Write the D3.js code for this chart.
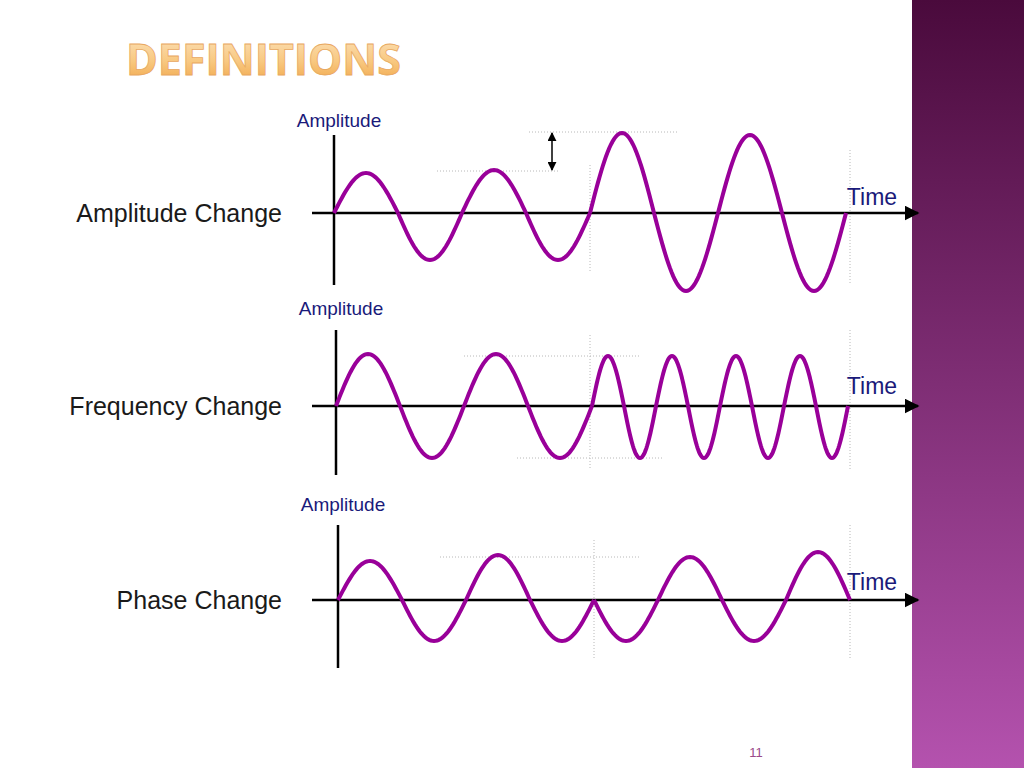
<!DOCTYPE html>
<html><head><meta charset="utf-8">
<script src="https://cdn.jsdelivr.net/npm/d3@7"></script>
<style>body{margin:0;background:#fff}svg{display:block}</style>
</head><body>
<svg id="chart" width="1024" height="768"></svg>
<script>
// half-cycle boundaries (in half-periods) and signed peak amplitudes per lobe
var ampEdges = [0,1,2,3,4,5,6,7,8];
var ampPeaks = [40,-47,43,-47,80,-78,78,-78];
var freqEdges = [0,1,2,3,4,4.5,5,5.5,6,6.5,7,7.5,8];
var freqPeaks = [52,-52,52,-52,50,-52,50,-52,50,-52,50,-52];
var phaseEdges = [0,1,2,3,4,5,6,7,8];
var phasePeaks = [39,-41,45,-41,-41,43,-41,48];
var rowLabels = ["Amplitude Change","Frequency Change","Phase Change"];

var svg = d3.select("#chart");
var defs = svg.append("defs");
var side = defs.append("linearGradient").attr("id","side").attr("x1",0).attr("y1",0).attr("x2",0).attr("y2",1);
side.append("stop").attr("offset",0).attr("stop-color","#4a0a3c");
side.append("stop").attr("offset",1).attr("stop-color","#b452ae");
var tg = defs.append("linearGradient").attr("id","tg").attr("x1",0).attr("y1",0).attr("x2",0).attr("y2",1);
tg.append("stop").attr("offset",0).attr("stop-color","#fde6c4");
tg.append("stop").attr("offset",0.55).attr("stop-color","#f8c880");
tg.append("stop").attr("offset",1).attr("stop-color","#f0a040");
defs.append("marker").attr("id","arr").attr("viewBox","0 0 10 10").attr("refX",9).attr("refY",5)
  .attr("markerWidth",6).attr("markerHeight",6).attr("orient","auto-start-reverse")
  .append("path").attr("d","M0,0L10,5L0,10z").attr("fill","#000");

svg.append("rect").attr("x",912).attr("y",0).attr("width",112).attr("height",768).attr("fill","url(#side)");
svg.append("text").attr("x",126).attr("y",75).text("DEFINITIONS")
  .attr("font-family","Open Sans, DejaVu Sans, sans-serif").attr("font-weight",700).attr("font-size",43)
  .attr("fill","url(#tg)").attr("stroke","#e8a860").attr("stroke-width",0.8);
svg.append("text").attr("x",756).attr("y",757).attr("text-anchor","middle").text("11")
  .attr("font-family","Liberation Sans, sans-serif").attr("font-size",13).attr("fill","#9a4a8a");

var panels = [
  {edges:ampEdges, peaks:ampPeaks, y0:213, x0:334, vTop:135, vBot:285, ampY:120, timeY:197,
   hguides:[[437,560,171],[529,678,132]], vguides:[[590,165,272],[850,150,285]], arrow:[552,132,171]},
  {edges:freqEdges, peaks:freqPeaks, y0:406, x0:336, vTop:330, vBot:475, ampY:308, timeY:386,
   hguides:[[464,640,356],[517,662,458]], vguides:[[590,335,470],[850,330,470]]},
  {edges:phaseEdges, peaks:phasePeaks, y0:600, x0:338, vTop:525, vBot:668, ampY:504, timeY:582,
   hguides:[[440,640,557]], vguides:[[594,540,660],[850,525,660]]}
];

panels.forEach(function(p, i) {
  var g = svg.append("g");
  var x = d3.scaleLinear().domain([0,8]).range([p.x0, p.x0 + 512]);
  var y = d3.scaleLinear().domain([-1,1]).range([p.y0 + 1, p.y0 - 1]);
  var dot = {stroke:"#b8b8b8","stroke-width":1,"stroke-dasharray":"1,2"};
  p.hguides.forEach(function(h){ g.append("line").attr("x1",h[0]).attr("x2",h[1]).attr("y1",h[2]).attr("y2",h[2]).attr("stroke",dot.stroke).attr("stroke-dasharray",dot["stroke-dasharray"]); });
  p.vguides.forEach(function(v){ g.append("line").attr("x1",v[0]).attr("x2",v[0]).attr("y1",v[1]).attr("y2",v[2]).attr("stroke",dot.stroke).attr("stroke-dasharray",dot["stroke-dasharray"]); });
  g.append("line").attr("x1",312).attr("x2",918).attr("y1",p.y0).attr("y2",p.y0)
    .attr("stroke","#000").attr("stroke-width",2.5).attr("marker-end","url(#arr)");
  g.append("line").attr("x1",p.x0).attr("x2",p.x0).attr("y1",p.vTop).attr("y2",p.vBot)
    .attr("stroke","#000").attr("stroke-width",2.5);
  if (p.arrow) g.append("line").attr("x1",p.arrow[0]).attr("x2",p.arrow[0]).attr("y1",p.arrow[1]+1).attr("y2",p.arrow[2]-1)
    .attr("stroke","#000").attr("stroke-width",1.5).attr("marker-start","url(#arr)").attr("marker-end","url(#arr)");
  var line = d3.line().x(function(d){return x(d[0]);}).y(function(d){return y(d[1]);});
  p.peaks.forEach(function(a, k) {
    var a0 = p.edges[k], a1 = p.edges[k+1];
    var pts = d3.range(0, 41).map(function(j){ var t=j/40; return [a0 + (a1-a0)*t, a*Math.sin(Math.PI*t)]; });
    g.append("path").attr("d", line(pts)).attr("fill","none").attr("stroke","#990099").attr("stroke-width",4);
  });
  g.append("text").attr("x",p.x0 + 5).attr("y",p.ampY + 7).attr("text-anchor","middle").text("Amplitude")
    .attr("font-family","Liberation Sans Narrow, Liberation Sans, sans-serif").attr("font-size",19).attr("fill","#1a1a7a");
  g.append("text").attr("x",p.i === 0 ? 872 : 872).attr("y",p.timeY + 8).attr("text-anchor","middle").text("Time")
    .attr("font-family","Liberation Sans Narrow, Liberation Sans, sans-serif").attr("font-size",23).attr("fill","#1a1a7a");
  g.append("text").attr("x",282).attr("y",p.y0 + 9).attr("text-anchor","end").text(rowLabels[i])
    .attr("font-family","Liberation Sans, Arial, sans-serif").attr("font-size",25).attr("fill","#1a1a1a");
});
</script>
</body></html>
